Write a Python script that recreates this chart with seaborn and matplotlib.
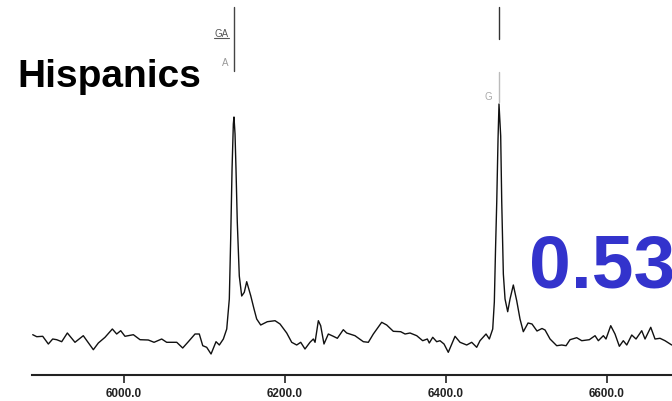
import matplotlib
matplotlib.use("Agg")
import matplotlib.pyplot as plt
from matplotlib.lines import Line2D
import numpy as np
import pandas as pd
import seaborn as sns

# Electropherogram trace: scan position vs. signal intensity
scan = [5886.6, 5891.6, 5899.0, 5906.0, 5911.4, 5916.4, 5922.6, 5929.6, 5939.1, 5949.4,
        5961.9, 5968.1, 5976.4, 5985.5, 5990.9, 5995.9, 6001.2, 6011.6, 6019.9, 6030.2,
        6037.3, 6046.8, 6053.0, 6065.5, 6072.9, 6079.9, 6088.2, 6093.5, 6097.8, 6102.7,
        6108.1, 6114.3, 6118.4, 6123.4, 6127.6, 6130.8, 6132.5, 6134.2, 6135.8, 6136.6,
        6137.9, 6139.1, 6140.7, 6143.2, 6146.2, 6149.4, 6152.4, 6157.4, 6161.5, 6164.8,
        6169.8, 6178.0, 6187.6, 6193.8, 6202.1, 6208.3, 6214.5, 6219.5, 6224.8, 6231.0,
        6235.2, 6237.3, 6241.4, 6244.3, 6248.4, 6253.8, 6260.0, 6265.0, 6272.4, 6276.6,
        6286.9, 6297.3, 6303.5, 6309.7, 6320.1, 6326.3, 6334.5, 6343.7, 6349.1, 6355.3,
        6363.6, 6371.0, 6376.8, 6379.2, 6383.5, 6388.4, 6392.5, 6397.5, 6402.8, 6411.2,
        6417.4, 6425.7, 6431.9, 6438.1, 6442.2, 6449.7, 6453.8, 6458.0, 6460.0, 6461.5,
        6463.0, 6464.6, 6465.8, 6467.9, 6469.2, 6471.2, 6473.3, 6476.6, 6479.5, 6483.6,
        6487.8, 6491.9, 6496.0, 6501.9, 6506.8, 6513.0, 6519.2, 6523.0, 6529.2, 6537.5,
        6543.7, 6549.1, 6554.0, 6562.3, 6568.6, 6578.0, 6585.1, 6589.2, 6595.4, 6598.7,
        6604.6, 6609.9, 6615.3, 6620.2, 6624.5, 6630.7, 6636.0, 6643.1, 6647.2, 6654.3,
        6659.6, 6665.8, 6672.0, 6680.4]
signal = [40.3, 38.3, 38.7, 31.0, 36.0, 35.3, 33.3, 42.0, 32.7, 39.3,
          25.3, 32.0, 37.7, 46.0, 41.0, 44.3, 38.7, 40.3, 35.3, 35.0,
          32.7, 36.0, 32.7, 32.7, 27.0, 33.3, 41.0, 41.0, 29.3, 27.7,
          21.0, 33.3, 30.0, 36.0, 46.0, 76.0, 136.0, 206.0, 251.0, 258.0,
          241.0, 206.0, 153.0, 99.0, 79.0, 82.7, 93.3, 79.3, 66.0, 56.0,
          50.0, 53.3, 54.3, 51.0, 42.0, 32.7, 30.0, 32.7, 26.0, 32.7,
          36.0, 32.7, 54.3, 49.3, 31.0, 41.0, 38.7, 36.7, 45.3, 42.0,
          39.3, 33.3, 32.7, 41.0, 52.7, 50.0, 43.7, 43.3, 41.0, 42.0,
          39.3, 34.3, 36.0, 32.0, 37.7, 33.3, 34.3, 31.0, 22.7, 38.7,
          32.7, 30.0, 32.7, 27.7, 34.3, 41.0, 36.0, 46.0, 73.0, 126.0,
          173.0, 236.0, 271.0, 239.0, 173.0, 101.0, 76.0, 63.3, 76.0, 90.0,
          74.3, 56.0, 43.3, 52.0, 51.0, 44.0, 46.5, 45.0, 36.0, 29.3,
          30.0, 29.3, 35.3, 37.3, 34.3, 35.3, 39.3, 34.3, 39.3, 36.0,
          49.3, 41.0, 28.7, 34.3, 30.0, 40.0, 36.0, 44.3, 36.0, 47.7,
          36.0, 36.7, 34.3, 30.0]

tick_values = [6000, 6200, 6400, 6600]
tick_labels = ["6000.0", "6200.0", "6400.0", "6600.0"]

# Allele calls above the two peaks
call_pos = [6136.6, 6465.8]
group_label = "Hispanics"
ratio_label = "0.53"

sns.set_theme(style="white")
plt.rcParams["font.family"] = ["Liberation Sans", "DejaVu Sans"]

W, H = 672, 402
fig = plt.figure(figsize=(W / 100, H / 100), dpi=100)
ax = fig.add_axes([32 / W, (H - 376) / H, 1 - 32 / W, 376 / H])

df = pd.DataFrame({"scan": scan, "signal": signal})
sns.lineplot(data=df, x="scan", y="signal", ax=ax, color="#111111",
             linewidth=1.0, sort=False, estimator=None)

ax.set_xlim(5885.7, 6680.7)
ax.set_ylim(0, 376)
ax.set_xlabel("")
ax.set_ylabel("")
ax.set_yticks([])
ax.set_xticks(tick_values)
ax.set_xticklabels(tick_labels, fontsize=8.5, fontweight="bold", color="#222222")
ax.tick_params(axis="x", direction="out", length=6, width=1.2, color="#222222", pad=3,
               bottom=True)
for side in ["top", "left", "right"]:
    ax.spines[side].set_visible(False)
ax.spines["bottom"].set_color("#222222")
ax.spines["bottom"].set_linewidth(1.5)
ax.patch.set_alpha(0)

# Allele call markers
ax.plot([call_pos[0], call_pos[0]], [304, 368], color="#444444", lw=1.0)
ax.plot([call_pos[1], call_pos[1]], [336, 368], color="#333333", lw=1.0)
ax.plot([call_pos[1], call_pos[1]], [273, 303], color="#bbbbbb", lw=1.0)

# Allele labels (figure pixel coordinates)
def fx(x):
    return x / W

def fy(y):
    return 1 - y / H

fig.text(fx(229), fy(34), "GA", ha="right", va="center", fontsize=7, color="#555555")
fig.add_artist(Line2D([fx(214), fx(229)], [fy(38.5), fy(38.5)], color="#555555", lw=0.8))
fig.text(fx(228), fy(63), "A", ha="right", va="center", fontsize=7, color="#999999")
fig.text(fx(492), fy(97), "G", ha="right", va="center", fontsize=7, color="#aaaaaa")

fig.text(fx(17), fy(87), group_label, ha="left", va="baseline", fontsize=28,
         fontweight="bold", color="black")
fig.text(fx(529), fy(287), ratio_label, ha="left", va="baseline", fontsize=54,
         fontweight="bold", color="#3333cc")

fig.savefig("out.png", dpi=100)
